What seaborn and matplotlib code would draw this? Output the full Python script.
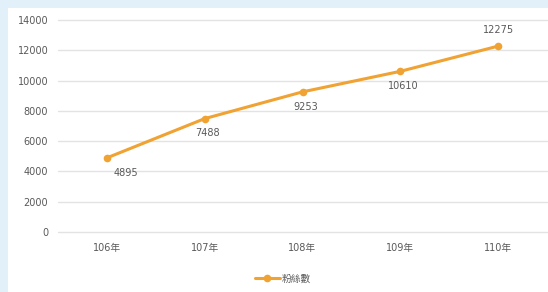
import pandas as pd
import seaborn as sns
import matplotlib.pyplot as plt
from matplotlib.patches import Rectangle

years = ["106年", "107年", "108年", "109年", "110年"]
fans = [4895, 7488, 9253, 10610, 12275]
series_name = "粉絲數"
y_ticks = [0, 2000, 4000, 6000, 8000, 10000, 12000, 14000]

ORANGE = "#f0a232"
TEXT = "#595959"


def create_plot():
    df = pd.DataFrame({"year": years, "fans": fans, "series": series_name})
    sns.set_theme(style="white")
    plt.rcParams['font.family'] = ['DejaVu Sans', 'Noto Sans CJK TC']

    fig = plt.figure(figsize=(5.48, 2.92), dpi=100)
    fig.patch.set_facecolor("#e2f1f9")
    # white chart area inside the light blue frame
    fig.add_artist(Rectangle((8 / 548, 0), 1, 1 - 8 / 292, transform=fig.transFigure,
                             facecolor="white", edgecolor="none", zorder=-10))

    ax = fig.add_axes([58 / 548, 60 / 292, 489 / 548, 212 / 292])
    ax.set_facecolor("none")

    sns.lineplot(data=df, x="year", y="fans", hue="series", palette=[ORANGE],
                 marker="o", markersize=5.5, markeredgewidth=0, linewidth=2.2,
                 ax=ax, sort=False)

    # data labels (last one above the point, first one nudged right like the original)
    for i, v in enumerate(fans):
        if i == len(fans) - 1:
            ax.annotate(str(v), (i, v), xytext=(0, 8), textcoords="offset points",
                        ha="center", va="bottom", fontsize=7, color=TEXT)
        else:
            dx = 14 if i == 0 else 2
            ax.annotate(str(v), (i, v), xytext=(dx, -7), textcoords="offset points",
                        ha="center", va="top", fontsize=7, color=TEXT)

    ax.set_xlim(-0.5, len(years) - 0.5)
    ax.set_ylim(0, 14000)
    ax.set_yticks(y_ticks)
    ax.set_yticklabels([str(t) for t in y_ticks])
    ax.yaxis.grid(True, color="#e3e3e3", linewidth=1)
    for gl in ax.get_ygridlines():
        gl.set_clip_on(False)
    ax.set_axisbelow(True)
    ax.tick_params(axis="both", length=0, labelsize=7, colors=TEXT)
    ax.tick_params(axis="y", pad=7)
    ax.tick_params(axis="x", pad=8)
    ax.set_xlabel("")
    ax.set_ylabel("")
    for s in ax.spines.values():
        s.set_visible(False)

    leg = ax.legend(loc="center", bbox_to_anchor=(0.46, -0.22), frameon=False,
                    fontsize=7, handlelength=2.6, handletextpad=0.2)
    for t in leg.get_texts():
        t.set_color(TEXT)

    fig.savefig("out.png", dpi=100, facecolor=fig.get_facecolor())


if __name__ == "__main__":
    create_plot()
